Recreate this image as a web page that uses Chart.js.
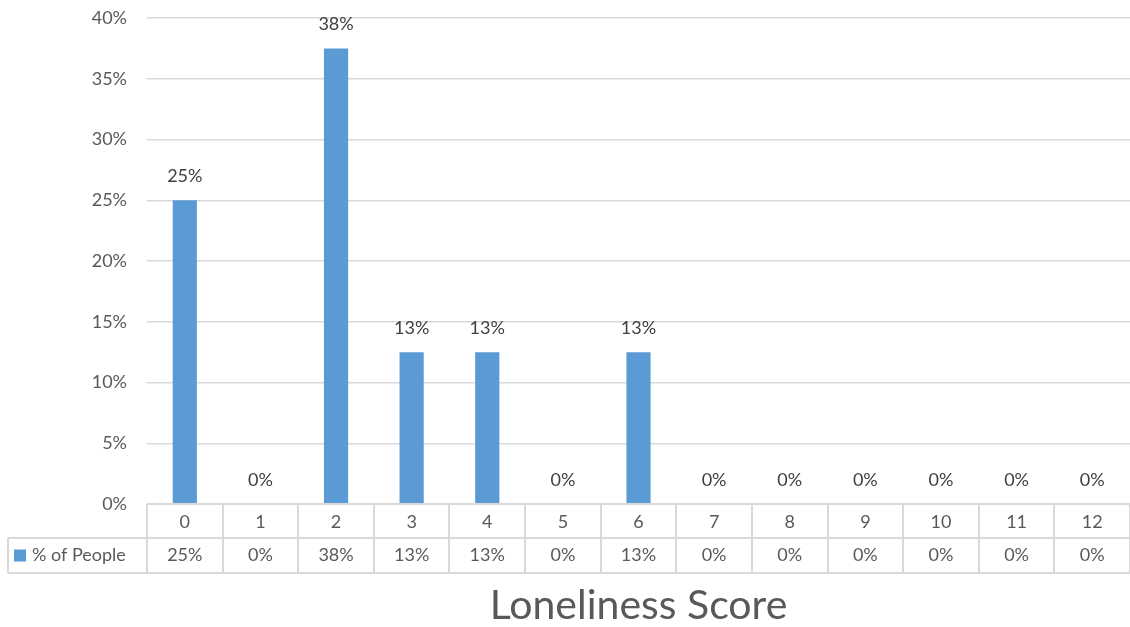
<!DOCTYPE html>
<html>
<head>
<meta charset="utf-8">
<script src="https://cdn.jsdelivr.net/npm/chart.js@4"></script>
<style>
  html, body { margin: 0; padding: 0; background: #fff; }
  #wrap { width: 1130px; height: 627px; }
</style>
</head>
<body>
<div id="wrap"><canvas id="score_chart" width="1130" height="627"></canvas></div>
<script>
  // Share of people at each loneliness score
  var scores = ['0', '1', '2', '3', '4', '5', '6', '7', '8', '9', '10', '11', '12'];
  var peopleShare = [0.25, 0, 0.375, 0.125, 0.125, 0, 0.125, 0, 0, 0, 0, 0, 0];
  var seriesName = '% of People';
  var axisTitle = 'Loneliness Score';

  var barColor = '#5B9BD5';
  var textColor = '#595959';
  var gridColor = '#D9D9D9';
  var fontFamily = 'Lato, "Open Sans", sans-serif';

  var pct = function(v) {
    return Math.round(v * 100) + '%';
  };

  // Value labels sitting above each bar
  var barLabels = {
    id: 'barLabels',
    afterDatasetsDraw: function(chart) {
      var ctx = chart.ctx;
      var meta = chart.getDatasetMeta(0);
      ctx.save();
      ctx.font = '18px ' + fontFamily;
      ctx.fillStyle = '#404040';
      ctx.textAlign = 'center';
      ctx.textBaseline = 'middle';
      meta.data.forEach(function(bar, i) {
        ctx.fillText(pct(chart.data.datasets[0].data[i]), bar.x, bar.y - 24);
      });
      ctx.restore();
    }
  };

  // Excel style data table under the plot
  var dataTable = {
    id: 'dataTable',
    afterDraw: function(chart) {
      var ctx = chart.ctx;
      var x = chart.scales.x;
      var area = chart.chartArea;
      var row1Top = area.bottom;
      var row2Top = row1Top + 34;
      var row2Bottom = row2Top + 35;
      var tableLeft = 8;
      var step = (area.right - area.left) / scores.length;

      ctx.save();
      ctx.strokeStyle = gridColor;
      ctx.lineWidth = 2;
      ctx.beginPath();
      ctx.moveTo(area.left, row1Top);
      ctx.lineTo(area.right, row1Top);
      ctx.moveTo(tableLeft, row2Top);
      ctx.lineTo(area.right, row2Top);
      ctx.moveTo(tableLeft, row2Bottom);
      ctx.lineTo(area.right, row2Bottom);
      ctx.moveTo(tableLeft, row2Top);
      ctx.lineTo(tableLeft, row2Bottom);
      for (var i = 0; i <= scores.length; i++) {
        var lx = Math.round(area.left + i * step);
        ctx.moveTo(lx, row1Top);
        ctx.lineTo(lx, row2Bottom);
      }
      ctx.stroke();

      ctx.font = '18px ' + fontFamily;
      ctx.fillStyle = textColor;
      ctx.textAlign = 'center';
      ctx.textBaseline = 'middle';
      var rowMid = (row2Top + row2Bottom) / 2;
      peopleShare.forEach(function(v, i) {
        ctx.fillText(pct(v), x.getPixelForValue(i), rowMid);
      });

      // legend key in the first column
      ctx.fillStyle = barColor;
      ctx.fillRect(14, rowMid - 6, 12, 12);
      ctx.fillStyle = textColor;
      ctx.textAlign = 'left';
      ctx.fillText(seriesName, 32, rowMid);
      ctx.restore();
    }
  };

  var ctx = document.getElementById('score_chart').getContext('2d');
  var scoreChart = new Chart(ctx, {
    type: 'bar',
    data: {
      labels: scores,
      datasets: [
        {
          label: seriesName,
          data: peopleShare,
          backgroundColor: barColor,
          barPercentage: 0.32,
          categoryPercentage: 1
        }
      ]
    },
    options: {
      responsive: false,
      animation: false,
      layout: {
        padding: { top: 18, right: 0, left: 0, bottom: 0 }
      },
      plugins: {
        legend: { display: false },
        tooltip: { enabled: false }
      },
      scales: {
        y: {
          min: 0,
          max: 0.4,
          afterFit: function(scale) {
            scale.width = 147;
            scale.paddingTop = 0;
          },
          ticks: {
            stepSize: 0.05,
            padding: 20,
            color: textColor,
            font: { family: fontFamily, size: 18 },
            callback: function(v) {
              return pct(v);
            }
          },
          grid: {
            color: gridColor,
            lineWidth: 1.5,
            drawTicks: false
          },
          border: { display: false }
        },
        x: {
          afterFit: function(scale) {
            scale.height = 123;
          },
          ticks: {
            padding: 7,
            color: textColor,
            font: { family: fontFamily, size: 18 }
          },
          grid: { display: false, drawTicks: false },
          border: { display: false },
          title: {
            display: true,
            text: axisTitle,
            color: textColor,
            padding: { top: 0, bottom: 0 },
            font: { family: fontFamily, size: 41, lineHeight: 1.05 }
          }
        }
      }
    },
    plugins: [barLabels, dataTable]
  });
</script>
</body>
</html>
